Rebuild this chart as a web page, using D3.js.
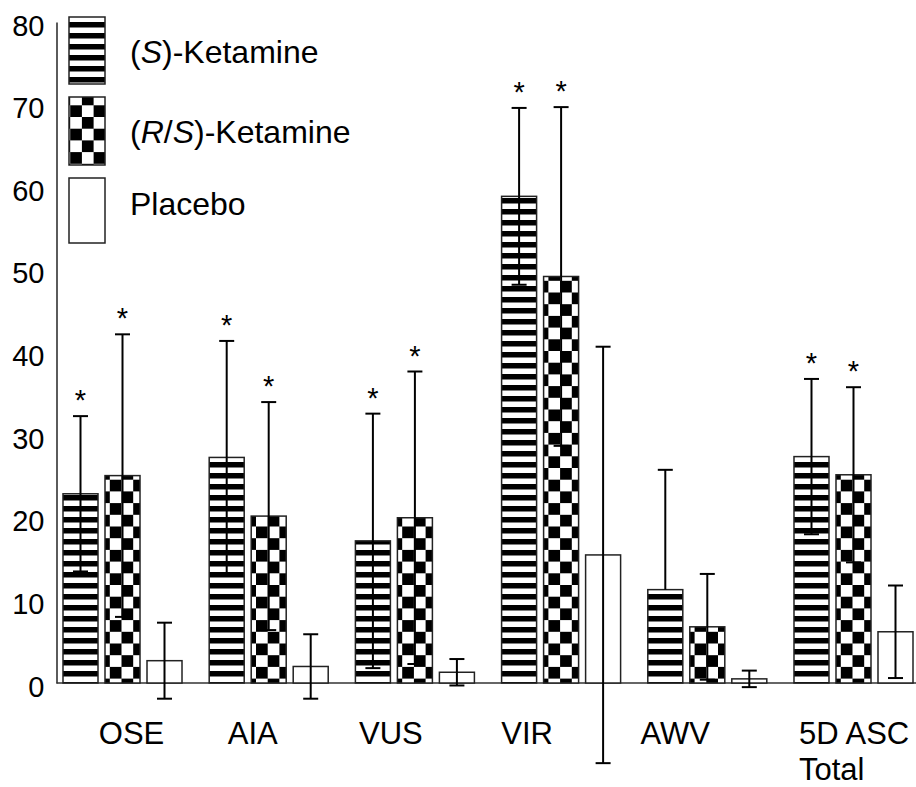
<!DOCTYPE html>
<html>
<head>
<meta charset="utf-8">
<script src="https://cdn.jsdelivr.net/npm/d3@7"></script>
<style>
  html, body { margin: 0; padding: 0; background: #fff; }
  svg { display: block; }
  text { font-family: "Liberation Sans", Arial, sans-serif; fill: #000; }
</style>
</head>
<body>
<svg id="chart" width="916" height="787"></svg>
<script>
// ---------------- data ----------------
const categories = ["OSE", "AIA", "VUS", "VIR", "AWV", "5D ASC\nTotal"];
const seriesNames = ["(S)-Ketamine", "(R/S)-Ketamine", "Placebo"];

const sKetamine   = [22.9, 27.3, 17.2, 58.9, 11.3, 27.4];
const sKetamineSD = [9.4, 14.1, 15.4, 10.7, 14.5, 9.4];
const sKetamineLower = [true, true, true, true, false, true];
const sKetamineSig = [true, true, true, true, false, true];

const rsKetamine   = [25.1, 20.2, 20.0, 49.2, 6.8, 25.2];
const rsKetamineSD = [17.1, 13.8, 17.7, 20.5, 6.4, 10.6];
const rsKetamineLower = [true, true, true, true, true, true];
const rsKetamineSig = [true, true, true, true, false, true];

const placebo   = [2.7, 2.0, 1.3, 15.5, 0.5, 6.2];
const placeboSD = [4.6, 3.9, 1.6, 25.2, 1.0, 5.6];
const placeboLower = [true, true, true, true, true, true];
const placeboSig = [false, false, false, false, false, false];

const yTicks = [0, 10, 20, 30, 40, 50, 60, 70, 80];

// ---------------- layout ----------------
const svg = d3.select("#chart");
const W = 916;
const y = d3.scaleLinear().domain([0, 80]).range([683, 22]);
const x0 = d3.scaleBand().domain(categories).range([63, 913]).paddingInner(0.186).paddingOuter(0).align(0);
const x1 = d3.scaleBand().domain(seriesNames).range([0, x0.bandwidth()]).paddingInner(0.1667).paddingOuter(0);
const labelDx = [9, -16, -24, -34, -32, null]; // offsets from group centre; null = left aligned at group start
const axisX = 56.5;

const series = [
  { name: seriesNames[0], vals: sKetamine, sd: sKetamineSD, lower: sKetamineLower, sig: sKetamineSig, fill: "url(#stripes)" },
  { name: seriesNames[1], vals: rsKetamine, sd: rsKetamineSD, lower: rsKetamineLower, sig: rsKetamineSig, fill: "url(#checker)" },
  { name: seriesNames[2], vals: placebo, sd: placeboSD, lower: placeboLower, sig: placeboSig, fill: "#fff" }
];

// patterns
const defs = svg.append("defs");
const stripes = defs.append("pattern").attr("id", "stripes").attr("patternUnits", "userSpaceOnUse")
  .attr("width", 10).attr("height", 11);
stripes.append("rect").attr("width", 10).attr("height", 11).attr("fill", "#fff");
stripes.append("rect").attr("y", 0).attr("width", 10).attr("height", 5.5).attr("fill", "#000");

const sq = 11.7;
const checker = defs.append("pattern").attr("id", "checker").attr("patternUnits", "userSpaceOnUse")
  .attr("width", 2 * sq).attr("height", 2 * sq);
checker.append("rect").attr("width", 2 * sq).attr("height", 2 * sq).attr("fill", "#fff");
checker.append("rect").attr("x", sq).attr("y", 0).attr("width", sq).attr("height", sq).attr("fill", "#000");
checker.append("rect").attr("x", 0).attr("y", sq).attr("width", sq).attr("height", sq).attr("fill", "#000");

// y axis
const yAxis = d3.axisLeft(y).tickValues(yTicks).tickSize(0).tickPadding(12);
const gy = svg.append("g").attr("transform", `translate(${axisX},0)`).call(yAxis);
gy.select(".domain").attr("stroke", "#333").attr("stroke-width", 1.6);
gy.selectAll(".tick text").attr("font-size", 29).attr("dy", "0.45em")
  .attr("font-family", '"Liberation Sans", Arial, sans-serif').attr("fill", "#000");

// x axis line
svg.append("line").attr("x1", axisX).attr("x2", W).attr("y1", y(0)).attr("y2", y(0))
  .attr("stroke", "#333").attr("stroke-width", 1.6);

// bars
const groups = svg.append("g").selectAll("g").data(categories).join("g")
  .attr("transform", d => `translate(${x0(d)},0)`);

series.forEach(s => {
  groups.append("rect")
    .attr("x", (d, i) => x1(s.name))
    .attr("y", (d, i) => y(s.vals[i]))
    .attr("width", x1.bandwidth())
    .attr("height", (d, i) => y(0) - y(s.vals[i]))
    .attr("fill", s.fill)
    .attr("stroke", "#222")
    .attr("stroke-width", 1.5);
});

// error bars
const capW = 15;
series.forEach(s => {
  groups.each(function (d, i) {
    const g = d3.select(this);
    const cx = x1(s.name) + x1.bandwidth() / 2;
    const top = s.vals[i] + s.sd[i];
    const bot = s.vals[i] - s.sd[i];
    g.append("line").attr("x1", cx).attr("x2", cx).attr("y1", y(s.vals[i])).attr("y2", y(top))
      .attr("stroke", "#000").attr("stroke-width", 2);
    g.append("line").attr("x1", cx - capW / 2).attr("x2", cx + capW / 2).attr("y1", y(top)).attr("y2", y(top))
      .attr("stroke", "#000").attr("stroke-width", 2);
    if (s.lower[i]) {
      g.append("line").attr("x1", cx).attr("x2", cx).attr("y1", y(s.vals[i])).attr("y2", y(bot))
        .attr("stroke", "#000").attr("stroke-width", 2);
      g.append("line").attr("x1", cx - capW / 2).attr("x2", cx + capW / 2).attr("y1", y(bot)).attr("y2", y(bot))
        .attr("stroke", "#000").attr("stroke-width", 2);
    }
    if (s.sig[i]) {
      g.append("text").attr("x", cx).attr("y", y(top) - 6).attr("text-anchor", "middle")
        .attr("font-size", 29).text("*");
    }
  });
});

// x labels
categories.forEach((c, i) => {
  const lines = c.split("\n");
  const cxg = x0(c) + x0.bandwidth() / 2;
  const t = svg.append("text").attr("font-size", 31);
  if (labelDx[i] === null) {
    t.attr("text-anchor", "start");
    lines.forEach((ln, k) => t.append("tspan").attr("x", x0(c) + 5).attr("y", 744 + k * 36).text(ln));
  } else {
    t.attr("text-anchor", "middle");
    lines.forEach((ln, k) => t.append("tspan").attr("x", cxg + labelDx[i]).attr("y", 744 + k * 36).text(ln));
  }
});

// legend
const legTop = [17, 97, 178];
const legH = [67, 68, 65];
const legTextY = [63, 143, 215];
series.forEach((s, i) => {
  svg.append("rect").attr("x", 69).attr("y", legTop[i]).attr("width", 36).attr("height", legH[i])
    .attr("fill", s.fill).attr("stroke", "#222").attr("stroke-width", 1.5);
  const t = svg.append("text").attr("x", 130).attr("y", legTextY[i]).attr("font-size", 32);
  const parts = s.name.match(/^\((.*)\)(.*)$/);
  if (parts) {
    t.append("tspan").text("(");
    parts[1].split(/(\/)/).forEach(p => {
      if (p === "/") t.append("tspan").text("/");
      else if (p) t.append("tspan").attr("font-style", "italic").text(p);
    });
    t.append("tspan").text(")" + parts[2]);
  } else {
    t.text(s.name);
  }
});
</script>
</body>
</html>
